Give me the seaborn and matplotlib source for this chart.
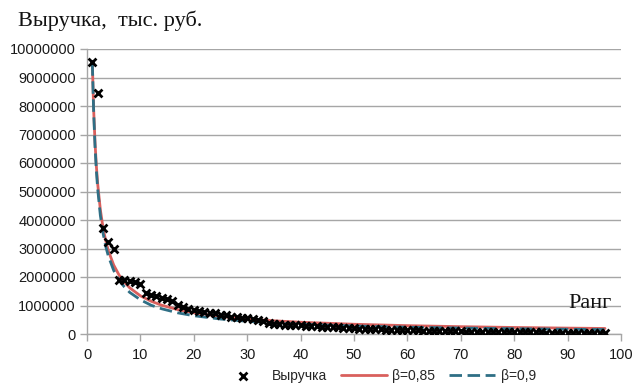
import pandas as pd
import matplotlib.pyplot as plt
import matplotlib.ticker as mtick
import seaborn as sns

# ранги и выручка (тыс. руб.)
rank = list(range(1, 98))
revenue = [
    9550000, 8450000, 3720000, 3220000, 3000000, 1900000, 1900000, 1870000, 1840000, 1750000,
    1430000, 1380000, 1330000, 1270000, 1220000, 1150000, 1020000, 930000, 890000, 850000,
    820000, 780000, 750000, 720000, 680000, 660000, 610000, 590000, 570000, 550000,
    510000, 490000, 450000, 370000, 350000, 340000, 330000, 320000, 310000, 300000,
    290000, 280000, 270000, 260000, 250000, 240000, 230000, 220000, 210000, 200000,
    190000, 180000, 175000, 170000, 160000, 155000, 150000, 145000, 140000, 135000,
    130000, 125000, 120000, 115000, 110000, 105000, 100000, 95000, 92000, 90000,
    87000, 84000, 81000, 78000, 75000, 72000, 70000, 68000, 66000, 64000,
    62000, 60000, 58000, 56000, 54000, 52000, 50000, 48000, 46000, 44000,
    42000, 40000, 38000, 36000, 33000, 30000, 25000,
]

# аппроксимирующие кривые
curve_rank = [1, 1.25, 1.5, 1.75, 2, 2.5, 3, 3.5, 4, 5, 6, 7, 8, 10, 12, 14, 17, 20,
              25, 30, 35, 40, 50, 60, 70, 80, 90, 97]
beta_085 = [9500000, 7860000, 6730000, 5900000, 5270000, 4360000, 3730000, 3280000,
            2920000, 2420000, 2070000, 1820000, 1620000, 1340000, 1150000, 1010000,
            855000, 745000, 616000, 527000, 463000, 413000, 342000, 293000, 257000,
            229000, 207000, 194000]
beta_09 = [9500000, 7770000, 6590000, 5740000, 5090000, 4160000, 3540000, 3080000,
           2730000, 2230000, 1890000, 1650000, 1460000, 1200000, 1010000, 884000,
           742000, 641000, 525000, 445000, 387000, 344000, 281000, 238000, 208000,
           184000, 166000, 155000]

RED = "#d9605d"
TEAL = "#2f6f85"
GRID = "#a6a6a6"

sns.set_theme(style="white")
plt.rcParams["font.family"] = ["Liberation Sans", "DejaVu Sans"]

df_pts = pd.DataFrame({"rank": rank, "revenue": revenue})
df_fit = pd.DataFrame({"rank": curve_rank, "b085": beta_085, "b09": beta_09})

fig, ax = plt.subplots(figsize=(6.34, 3.83), dpi=100)
fig.subplots_adjust(left=87 / 634, right=621 / 634, bottom=49 / 383, top=334 / 383)

sns.lineplot(data=df_fit, x="rank", y="b085", color=RED, linewidth=2.0,
             label="β=0,85", ax=ax, zorder=2)
sns.lineplot(data=df_fit, x="rank", y="b09", color=TEAL, linewidth=2.0,
             linestyle=(0, (4.5, 2)), label="β=0,9", ax=ax, zorder=2.5)
sns.scatterplot(data=df_pts, x="rank", y="revenue", marker="x", color="black",
                s=32, linewidth=2.0, label="Выручка", ax=ax, zorder=3)

ax.set_xlim(0, 100)
ax.set_ylim(0, 10000000)
ax.set_xticks(range(0, 101, 10))
ax.set_yticks(range(0, 10000001, 1000000))
ax.yaxis.set_major_formatter(mtick.FuncFormatter(lambda v, _: f"{int(v)}"))
ax.set_xlabel("")
ax.set_ylabel("")

ax.yaxis.grid(True, color=GRID, linewidth=1)
ax.xaxis.grid(False)
for s in ["top", "right"]:
    ax.spines[s].set_visible(False)
for s in ["left", "bottom"]:
    ax.spines[s].set_color(GRID)
    ax.spines[s].set_linewidth(1)
ax.tick_params(bottom=True, left=True, direction="out", length=5, width=1,
               color=GRID, labelcolor="#1a1a1a", labelsize=10.5)
ax.tick_params(axis="x", pad=5)
ax.tick_params(axis="y", pad=3)

h, l = ax.get_legend_handles_labels()
order = [l.index("Выручка"), l.index("β=0,85"), l.index("β=0,9")]
ax.legend([h[i] for i in order], [l[i] for i in order], loc="center",
          bbox_to_anchor=(0.545, -0.147), ncol=3, frameon=False, fontsize=10,
          handlelength=3.3, columnspacing=1.0, handletextpad=0.4)

fig.text(18 / 634, 1 - 21 / 383, "Выручка,  тыс. руб.", family="Liberation Serif",
         fontsize=16, va="center", ha="left", color="#111111")
fig.text(568 / 634, 1 - 304 / 383, "Ранг", family="Liberation Serif",
         fontsize=16, va="center", ha="left", color="#111111")

fig.savefig("out.png", dpi=100)
